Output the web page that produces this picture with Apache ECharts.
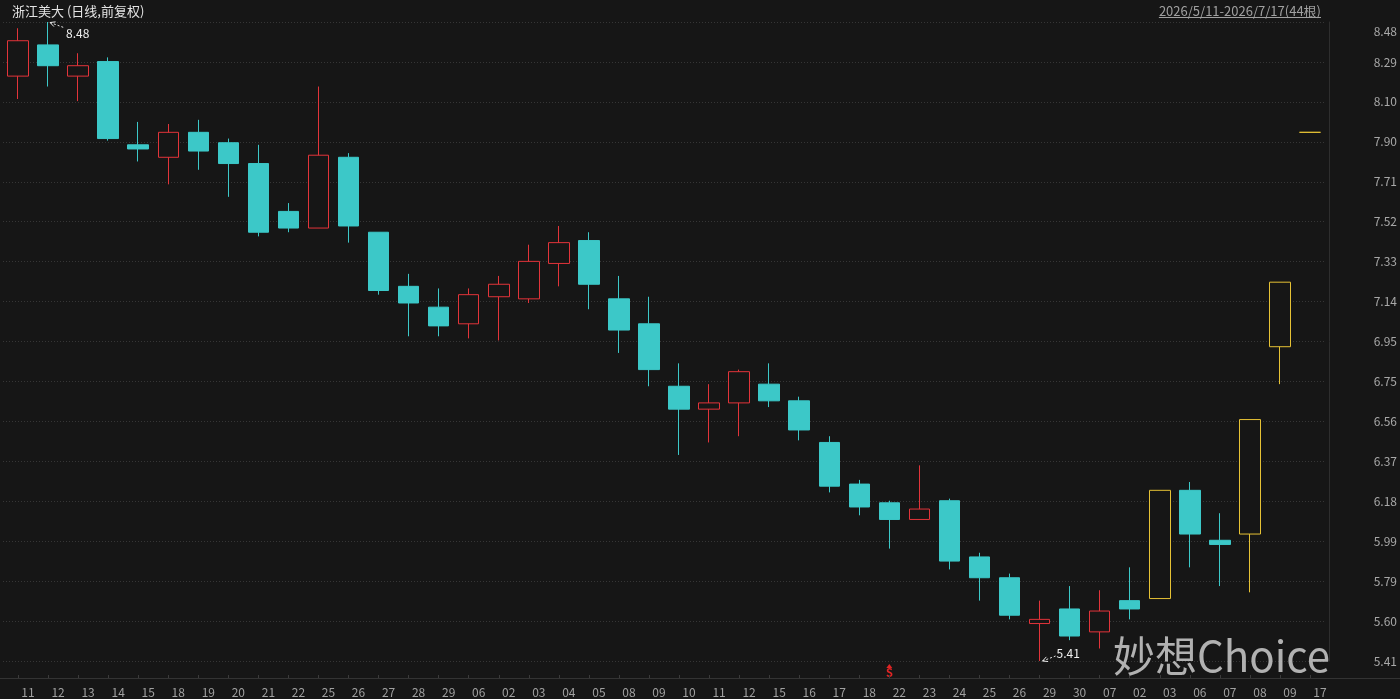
<!DOCTYPE html>
<html><head><meta charset="utf-8">
<script src="https://cdn.jsdelivr.net/npm/echarts@6/dist/echarts.min.js"></script>
<style>html,body{margin:0;padding:0;background:#161616;}#c{width:1400px;height:699px;}</style>
</head><body><div id="c"></div>
<script>
const categories = ['11','12','13','14','15','18','19','20','21','22','25','26','27','28','29','06','02','03','04','05','08','09','10','11','12','15','16','17','18','22','23','24','25','26','29','30','07','02','03','06','07','08','09','17'];
const opens  = [8.22,8.37,8.22,8.29,7.89,7.83,7.95,7.90,7.80,7.57,7.49,7.83,7.47,7.21,7.11,7.03,7.16,7.15,7.32,7.43,7.15,7.03,6.73,6.62,6.65,6.74,6.66,6.46,6.26,6.17,6.09,6.18,5.91,5.81,5.59,5.66,5.55,5.70,5.71,6.23,5.99,6.02,6.92,7.95];
const closes = [8.39,8.27,8.27,7.92,7.87,7.95,7.86,7.80,7.47,7.49,7.84,7.50,7.19,7.13,7.02,7.17,7.22,7.33,7.42,7.22,7.00,6.81,6.62,6.65,6.80,6.66,6.52,6.25,6.15,6.09,6.14,5.89,5.81,5.63,5.61,5.53,5.65,5.66,6.23,6.02,5.97,6.57,7.23,7.95];
const lows   = [8.11,8.17,8.10,7.91,7.81,7.70,7.77,7.64,7.45,7.47,7.49,7.42,7.17,6.97,6.97,6.96,6.95,7.13,7.21,7.10,6.89,6.73,6.40,6.46,6.49,6.63,6.47,6.22,6.11,5.95,6.09,5.85,5.70,5.61,5.41,5.51,5.47,5.61,5.71,5.86,5.77,5.74,6.74,7.95];
const highs  = [8.45,8.48,8.33,8.31,8.00,7.99,8.01,7.92,7.89,7.61,8.17,7.85,7.47,7.27,7.20,7.20,7.26,7.41,7.50,7.47,7.26,7.16,6.84,6.74,6.81,6.84,6.68,6.49,6.28,6.18,6.35,6.19,5.93,5.83,5.70,5.77,5.75,5.86,6.23,6.27,6.12,6.57,7.23,7.95];
const limitUpIdx = [38,41,42,43];
const signalIdx = [29];
const titleText = '浙江美大 (日线,前复权)';
const rangeText = '2026/5/11-2026/7/17(44根)';
const watermarkText = '妙想Choice';
const yMin = 5.41, yMax = 8.48, ySplits = 16;

const BG = '#161616', UP = '#e2343a', DOWN = '#3cc8c8', LIMIT = '#e6c235';
const FONT = '"Noto Sans CJK SC","Noto Sans",sans-serif';
const interval = (yMax - yMin) / ySplits;
const fmt = v => (Math.round(v * 100 + 1e-6) / 100).toFixed(2);

const chart = echarts.init(document.getElementById('c'));
const data = categories.map((c, i) => {
  const d = { value: [opens[i], closes[i], lows[i], highs[i]] };
  if (limitUpIdx.includes(i)) d.itemStyle = { color: BG, color0: BG, borderColor: LIMIT, borderColor0: LIMIT };
  return d;
});

chart.setOption({
  backgroundColor: BG,
  animation: false,
  grid: { left: 3, right: 74, top: 22, bottom: 38 },
  xAxis: {
    type: 'category', data: categories, boundaryGap: true, offset: 17,
    axisLine: { show: false },
    axisTick: { show: true, alignWithLabel: true, inside: true, length: 3, lineStyle: { color: '#3a3a3a' } },
    axisLabel: { interval: 0, color: '#a0a0a0', fontSize: 12, margin: 8, padding: [0, 0, 0, 20], fontFamily: FONT },
    splitLine: { show: false }
  },
  yAxis: {
    type: 'value', position: 'right', min: yMin, max: yMax, interval: interval, offset: 4,
    axisLine: { show: true, lineStyle: { color: '#2e2e2e' } },
    axisTick: { show: false },
    axisLabel: {
      color: '#a8a8a8', fontSize: 12, align: 'right', margin: 68, fontFamily: FONT,
      formatter: v => Math.abs(v - yMax) < 1e-6 ? '{t|' + fmt(v) + '}' : fmt(v),
      rich: { t: { color: '#a8a8a8', fontSize: 12, fontFamily: FONT, padding: [18, 0, 0, 0] } }
    },
    splitLine: { show: true, lineStyle: { color: '#363636', type: [1, 2] } }
  },
  series: [{
    type: 'candlestick', data: data, barWidth: 21,
    itemStyle: { color: BG, color0: DOWN, borderColor: UP, borderColor0: DOWN, borderWidth: 1 }
  }]
});

const px = (i, v) => chart.convertToPixel({ gridIndex: 0 }, [i, v]);
const measure = (t, f) => { const c = document.createElement('canvas').getContext('2d'); c.font = f; return c.measureText(t).width; };

let maxI = 0, minI = 0;
highs.forEach((h, i) => { if (h > highs[maxI]) maxI = i; });
lows.forEach((l, i) => { if (l < lows[minI]) minI = i; });
const pMax = px(maxI, highs[maxI]);
const pMin = px(minI, lows[minI]);
const axisY = px(0, yMin)[1] + 17;

function arrow(hx, hy, tx, ty) {
  const dx = tx - hx, dy = ty - hy, L = Math.hypot(dx, dy), ux = dx / L, uy = dy / L;
  const s = 5, w = 2.5;
  const ls = { stroke: '#e8e8e8', lineWidth: 1 };
  return [
    { type: 'line', shape: { x1: hx, y1: hy, x2: tx, y2: ty }, style: Object.assign({ lineDash: [2, 2] }, ls) },
    { type: 'line', shape: { x1: hx, y1: hy, x2: hx + ux * s - uy * w, y2: hy + uy * s + ux * w }, style: ls },
    { type: 'line', shape: { x1: hx, y1: hy, x2: hx + ux * s + uy * w, y2: hy + uy * s - ux * w }, style: ls }
  ];
}

const g = [];
g.push(...arrow(pMax[0] + 2, pMax[1] + 0.5, pMax[0] + 17, pMax[1] + 6));
g.push({ type: 'text', style: { text: fmt(highs[maxI]), x: pMax[0] + 18, y: pMax[1] + 11, fill: '#f0f0f0', font: '12px ' + FONT, verticalAlign: 'middle' } });
g.push(...arrow(pMin[0] + 3, pMin[1], pMin[0] + 16, pMin[1] - 5));
g.push({ type: 'text', style: { text: fmt(lows[minI]), x: pMin[0] + 17, y: pMin[1] - 8, fill: '#f0f0f0', font: '12px ' + FONT, verticalAlign: 'middle' } });

// title and range
g.push({ type: 'text', style: { text: titleText, x: 12, y: 11, fill: '#e4e4e4', font: '13px ' + FONT, verticalAlign: 'middle' } });
const rf = '13px ' + FONT;
const rw = measure(rangeText, rf);
g.push({ type: 'text', style: { text: rangeText, x: 1321, y: 11, fill: '#a0a0a0', font: rf, align: 'right', verticalAlign: 'middle' } });
g.push({ type: 'line', shape: { x1: 1321 - rw, y1: 17.5, x2: 1321, y2: 17.5 }, style: { stroke: '#a0a0a0', lineWidth: 1 } });

// full-width axis line
g.push({ type: 'line', shape: { x1: 0, y1: axisY + 0.5, x2: 1400, y2: axisY + 0.5 }, style: { stroke: '#333333', lineWidth: 1 } });

// signal markers
signalIdx.forEach(i => {
  const x = px(i, yMin)[0];
  g.push({ type: 'polygon', shape: { points: [[x, axisY - 14], [x - 3, axisY - 10], [x + 3, axisY - 10]] }, style: { fill: '#e02424' } });
  g.push({ type: 'text', style: { text: 'S', x: x, y: axisY - 5, fill: '#e02424', font: 'bold 11px ' + FONT, align: 'center', verticalAlign: 'middle' } });
});

// watermark
g.push({ type: 'text', z: 100, style: { text: watermarkText, x: 1330, y: 677, fill: 'rgba(205,205,205,0.85)', font: '42px ' + FONT, align: 'right', verticalAlign: 'bottom' } });

chart.setOption({ graphic: g });
</script>
</body></html>
